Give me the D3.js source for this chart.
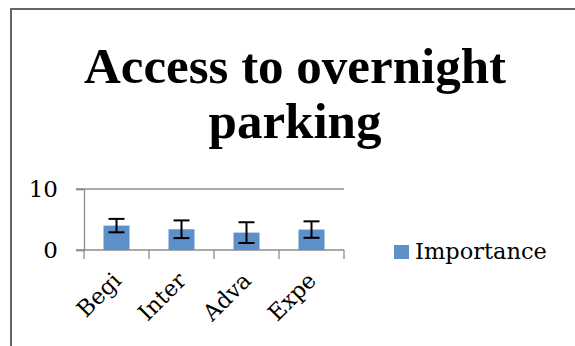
<!DOCTYPE html>
<html>
<head>
<meta charset="utf-8">
<script src="https://cdn.jsdelivr.net/npm/d3@7"></script>
<style>
  html, body { margin: 0; padding: 0; background: #fff; }
  svg { display: block; }
</style>
</head>
<body>
<svg id="chart" width="575" height="346"></svg>
<script>
// Chart data
const categories = ["Begi", "Inter", "Adva", "Expe"];
const importance = [4.0, 3.4, 2.85, 3.35];
const errorMargins = [1.1, 1.45, 1.7, 1.35];
const yTicks = [0, 10];
const titleLines = ["Access to overnight", "parking"];
const seriesName = "Importance";

const svg = d3.select("#chart");
const serif = "'DejaVu Serif', serif";
const titleFont = "'Liberation Serif', 'Times New Roman', serif";

// Outer chart frame
svg.append("rect")
  .attr("x", 11).attr("y", 9)
  .attr("width", 600).attr("height", 400)
  .attr("fill", "#fff")
  .attr("stroke", "#666").attr("stroke-width", 2);

// Title
const title = svg.append("text")
  .attr("text-anchor", "middle")
  .attr("font-family", titleFont)
  .attr("font-weight", "bold")
  .attr("font-size", 51)
  .attr("fill", "#000");
titleLines.forEach((line, i) => {
  title.append("tspan")
    .attr("x", 295)
    .attr("y", 83 + i * 55)
    .text(line);
});

// Plot area
const plot = { left: 84, right: 344, top: 189, bottom: 250 };

const x = d3.scaleBand()
  .domain(categories)
  .range([plot.left, plot.right])
  .paddingInner(0.6)
  .paddingOuter(0.3);

const xGroup = d3.scaleBand()
  .domain(categories)
  .range([plot.left, plot.right]);

const y = d3.scaleLinear()
  .domain([0, 10])
  .range([plot.bottom, plot.top]);

const gridColor = "#8c8c8c";

// Horizontal gridlines
svg.append("g")
  .selectAll("line")
  .data(yTicks.filter(t => t > 0))
  .join("line")
  .attr("x1", plot.left - 8).attr("x2", plot.right)
  .attr("y1", d => y(d)).attr("y2", d => y(d))
  .attr("stroke", gridColor).attr("stroke-width", 1.3);

// Y axis
const yAxis = svg.append("g")
  .attr("transform", `translate(${plot.left},0)`)
  .call(d3.axisLeft(y).tickValues(yTicks).tickSize(8).tickPadding(18).tickFormat(d3.format("d")));
yAxis.select(".domain").attr("stroke", gridColor).attr("stroke-width", 1.3);
yAxis.selectAll(".tick line").attr("stroke", gridColor).attr("stroke-width", 1.3);
yAxis.selectAll(".tick text")
  .attr("font-family", serif)
  .attr("font-size", 23)
  .attr("fill", "#000");

// X axis with category boundary ticks
const xAxisG = svg.append("g");
xAxisG.append("line")
  .attr("x1", plot.left - 8).attr("x2", plot.right)
  .attr("y1", plot.bottom).attr("y2", plot.bottom)
  .attr("stroke", gridColor).attr("stroke-width", 1.3);
const boundaries = categories.map(c => xGroup(c)).concat([plot.right]);
xAxisG.selectAll("line.bt")
  .data(boundaries)
  .join("line")
  .attr("class", "bt")
  .attr("x1", d => d).attr("x2", d => d)
  .attr("y1", plot.bottom).attr("y2", plot.bottom + 9)
  .attr("stroke", gridColor).attr("stroke-width", 1.3);

// Bars
svg.append("g")
  .selectAll("rect")
  .data(categories)
  .join("rect")
  .attr("x", c => x(c))
  .attr("width", x.bandwidth())
  .attr("y", (c, i) => y(importance[i]))
  .attr("height", (c, i) => plot.bottom - y(importance[i]))
  .attr("fill", "#5d8fc9");

// Error bars
const eb = svg.append("g").attr("stroke", "#000").attr("stroke-width", 2);
categories.forEach((c, i) => {
  const cx = x(c) + x.bandwidth() / 2;
  const hi = y(importance[i] + errorMargins[i]);
  const lo = y(importance[i] - errorMargins[i]);
  eb.append("line").attr("x1", cx).attr("x2", cx).attr("y1", hi).attr("y2", lo);
  eb.append("line").attr("x1", cx - 8).attr("x2", cx + 8).attr("y1", hi).attr("y2", hi);
  eb.append("line").attr("x1", cx - 8).attr("x2", cx + 8).attr("y1", lo).attr("y2", lo);
});

// Rotated category labels
svg.append("g")
  .selectAll("text")
  .data(categories)
  .join("text")
  .attr("text-anchor", "end")
  .attr("font-family", serif)
  .attr("font-size", 22.5)
  .attr("fill", "#000")
  .attr("transform", c => {
    const cx = xGroup(c) + xGroup.bandwidth() / 2 + 6;
    return `translate(${cx},${plot.bottom + 32}) rotate(-45)`;
  })
  .text(c => c);

// Legend
const legend = svg.append("g").attr("transform", "translate(394,245)");
legend.append("rect")
  .attr("width", 15).attr("height", 14)
  .attr("fill", "#5d8fc9");
legend.append("text")
  .attr("x", 21).attr("y", 14)
  .attr("font-family", serif)
  .attr("font-size", 22.5)
  .attr("fill", "#000")
  .text(seriesName);
</script>
</body>
</html>
